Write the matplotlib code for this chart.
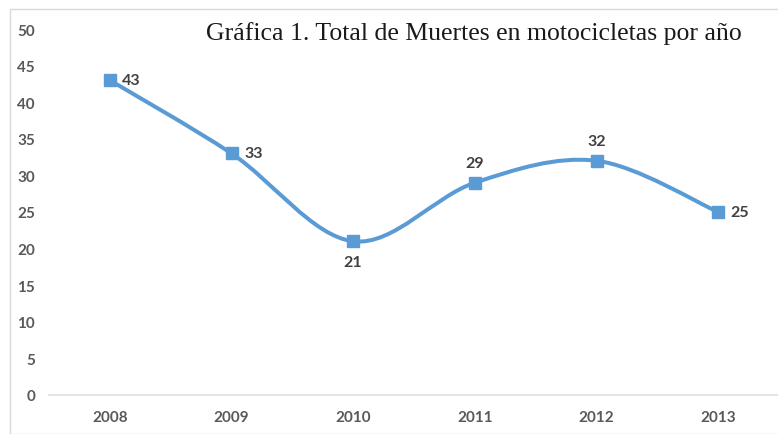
import numpy as np
import matplotlib.pyplot as plt
from matplotlib.path import Path
from matplotlib.patches import PathPatch, Rectangle

# datos
years = ['2008', '2009', '2010', '2011', '2012', '2013']
deaths = [43, 33, 21, 29, 32, 25]
# posicion de cada etiqueta respecto al punto
label_pos = ['right', 'right', 'below', 'above', 'above', 'right']

title = 'Gráfica 1. Total de Muertes en motocicletas por año'
blue = '#5B9BD5'

W, H = 778, 435
fig = plt.figure(figsize=(W / 100, H / 100), dpi=100)
fig.patches.append(Rectangle((10 / W, 0), 2.0, (H - 10) / H, transform=fig.transFigure,
                             fill=False, edgecolor='#D9D9D9', linewidth=1.0))

ax = fig.add_axes([49 / W, (H - 396) / H, (779 - 49) / W, (396 - 30) / H])
x = np.arange(len(years))
y = np.array(deaths, dtype=float)

# linea suavizada tipo Excel (bezier catmull-rom)
verts = [(x[0], y[0])]
codes = [Path.MOVETO]
n = len(x)
for i in range(n - 1):
    p0 = np.array([x[max(i - 1, 0)], y[max(i - 1, 0)]])
    p1 = np.array([x[i], y[i]])
    p2 = np.array([x[i + 1], y[i + 1]])
    p3 = np.array([x[min(i + 2, n - 1)], y[min(i + 2, n - 1)]])
    c1 = p1 + (p2 - p0) / 6
    c2 = p2 - (p3 - p1) / 6
    verts += [tuple(c1), tuple(c2), tuple(p2)]
    codes += [Path.CURVE4] * 3
ax.add_patch(PathPatch(Path(verts, codes), facecolor='none', edgecolor=blue,
                       linewidth=2.9, capstyle='round', joinstyle='round', zorder=2))
ax.plot(x, y, linestyle='none', marker='s', markersize=8, color=blue, zorder=3)

for xi, yi, pos in zip(x, y, label_pos):
    if pos == 'right':
        off, ha, va = (9, 0), 'left', 'center'
    elif pos == 'above':
        off, ha, va = (0, 9), 'center', 'bottom'
    else:
        off, ha, va = (0, -10), 'center', 'top'
    ax.annotate(f'{int(yi)}', (xi, yi), xytext=off, textcoords='offset points',
                ha=ha, va=va, fontsize=11.5, fontweight='bold',
                color='#404040', family='Lato')

ax.set_xlim(-0.5, n - 0.5)
ax.set_ylim(0, 50)
ax.set_yticks(range(0, 51, 5))
ax.set_xticks(x)
ax.set_xticklabels(years)
for lab in ax.get_xticklabels() + ax.get_yticklabels():
    lab.set_family('Lato')
    lab.set_fontweight('bold')
    lab.set_fontsize(11)
    lab.set_color('#595959')
ax.tick_params(length=0)
ax.tick_params(axis='x', pad=11)
ax.tick_params(axis='y', pad=10)
for s in ['top', 'right', 'left']:
    ax.spines[s].set_visible(False)
ax.spines['bottom'].set_color('#E6E6E6')
ax.spines['bottom'].set_linewidth(1.5)

fig.text(742 / W, 1 - 34 / H, title, ha='right', va='center', fontsize=18.5,
         family='Liberation Serif', color='#1a1a1a')

fig.savefig('out.png', dpi=100)
